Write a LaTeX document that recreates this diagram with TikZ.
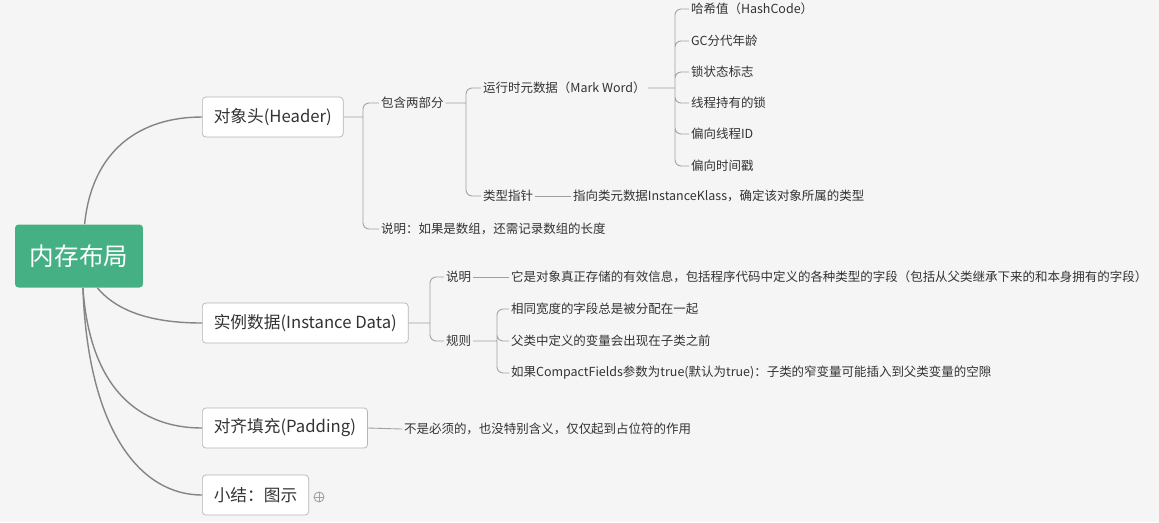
\documentclass[tikz,border=0pt]{standalone}
\usepackage{fontspec}
\setmainfont{Noto Sans CJK SC}
\definecolor{bgcol}{HTML}{F4F5F4}
\definecolor{rootcol}{HTML}{45B084}
\definecolor{linecol}{HTML}{858585}
\definecolor{brkcol}{HTML}{A0A0A0}
\definecolor{boxcol}{HTML}{B5B5B5}
\definecolor{txtcol}{HTML}{333333}
\tikzset{
  root_n/.style = {rectangle, rounded corners=2pt, fill=rootcol, text=white,
    font=\fontsize{14pt}{14pt}\selectfont, minimum width=2.56cm,
    minimum height=1.26cm, inner sep=0pt},
  main_n/.style = {rectangle, rounded corners=2pt, draw=boxcol, fill=white,
    text=txtcol, font=\fontsize{9.5pt}{9.5pt}\selectfont, minimum height=0.8cm,
    inner xsep=6.5pt, anchor=west},
  leaf_n/.style = {text=txtcol, font=\fontsize{7.1pt}{7.1pt}\selectfont,
    inner sep=1pt, anchor=west},
  trunk/.style = {draw=linecol, line width=0.8pt},
  link/.style = {draw=brkcol, line width=0.5pt, rounded corners=3.5pt}}

\begin{document}
\begin{tikzpicture}[x=0.02cm, y=-0.02cm]
\fill[bgcol] (0,0) rectangle (1159,522);

\node [root_n] (root) at (79,256) {内存布局};
\node [main_n] (header) at (202,117) {对象头(Header)};
\node [main_n] (inst) at (202,323) {实例数据(Instance Data)};
\node [main_n] (pad) at (202,428) {对齐填充(Padding)};
\node [main_n] (sum) at (202,495) {小结：图示};
\node [circle, draw=brkcol, line width=0.5pt, inner sep=0pt, minimum size=0.2cm] (more) at (319,497) {};
\draw [brkcol, line width=0.5pt] (more.west) -- (more.east) (more.north) -- (more.south);

% header
\node [leaf_n] (baohan) at (379,103) {包含两部分};
\node [leaf_n] (hnote) at (379,229) {说明：如果是数组，还需记录数组的长度};
\node [leaf_n] (mark) at (481,88) {运行时元数据（Mark Word）};
\node [leaf_n] (ptr) at (481,196) {类型指针};
\node [leaf_n] (ptrtext) at (571,196) {指向类元数据InstanceKlass，确定该对象所属的类型};
\node [leaf_n] (hash) at (689,9) {哈希值（HashCode）};
\node [leaf_n] (gc) at (689,41) {GC分代年龄};
\node [leaf_n] (lock) at (689,72) {锁状态标志};
\node [leaf_n] (owner) at (689,103) {线程持有的锁};
\node [leaf_n] (bid) at (689,134) {偏向线程ID};
\node [leaf_n] (bts) at (689,166) {偏向时间戳};

% instance data
\node [leaf_n] (inote) at (444,277) {说明};
\node [leaf_n] (inotetext) at (509,277) {它是对象真正存储的有效信息，包括程序代码中定义的各种类型的字段（包括从父类继承下来的和本身拥有的字段）};
\node [leaf_n] (rule) at (444,341) {规则};
\node [leaf_n] (r1) at (509,309) {相同宽度的字段总是被分配在一起};
\node [leaf_n] (r2) at (509,341) {父类中定义的变量会出现在子类之前};
\node [leaf_n] (r3) at (509,373) {如果CompactFields参数为true(默认为true)：子类的窄变量可能插入到父类变量的空隙};

% padding
\node [leaf_n] (padtext) at (402,429) {不是必须的，也没特别含义，仅仅起到占位符的作用};

\coordinate (hj) at (363,117);
\coordinate (bj) at (466,103);
\coordinate (mj) at (675,88);
\coordinate (ij) at (430,323);
\coordinate (rj) at (497,341);

% root curves
\draw [trunk] (root.80) .. controls (92,150) and (140,117) .. (header.west);
\draw [trunk] (root.-60) .. controls (120,315) and (160,323) .. (inst.west);
\draw [trunk] (root.-83) .. controls (90,390) and (140,428) .. (pad.west);
\draw [trunk] (root.-83) .. controls (88,430) and (140,495) .. (sum.west);

% brackets
\draw [link] (header.east) -- (hj) (hj) |- (baohan.west) (hj) |- (hnote.west);
\draw [link] (baohan.east) -- (bj) (bj) |- (mark.west) (bj) |- (ptr.west);
\draw [link] (ptr.east) -- (ptrtext.west);
\draw [link] (mark.east) -- (mj) (mj) |- (hash.west) (mj) |- (gc.west)
  (mj) |- (lock.west) (mj) |- (owner.west) (mj) |- (bid.west) (mj) |- (bts.west);
\draw [link] (inst.east) -- (ij) (ij) |- (inote.west) (ij) |- (rule.west);
\draw [link] (inote.east) -- (inotetext.west);
\draw [link] (rule.east) -- (rj) (rj) |- (r1.west) (rj) |- (r2.west) (rj) |- (r3.west);
\draw [link] (pad.east) -- (padtext.west);
\end{tikzpicture}
\end{document}
